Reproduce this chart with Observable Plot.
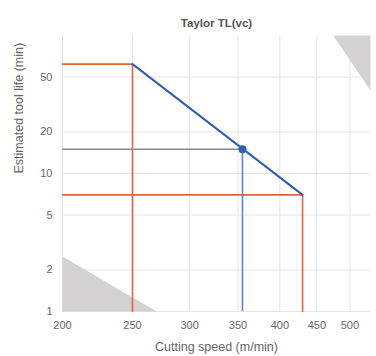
<!DOCTYPE html>
<html>
<head>
<meta charset="utf-8">
<script src="https://cdn.jsdelivr.net/npm/d3@7"></script>
<script src="https://cdn.jsdelivr.net/npm/@observablehq/plot@0.6"></script>
<style>
  html, body { margin: 0; padding: 0; background: #fff; }
  #chart svg { display: block; }
</style>
</head>
<body>
<div id="chart"></div>
<script>
// Data
const title = "Taylor TL(vc)";
const xLabel = "Cutting speed (m/min)";
const yLabel = "Estimated tool life (min)";
const xDomain = [200, 534];
const yDomain = [1, 100];
const xTicks = [200, 250, 300, 350, 400, 450, 500];
const yTicks = [1, 2, 5, 10, 20, 50];
// Taylor line end points (speed, life)
const limitSpeeds = [250, 430];
const limitLives = [62, 7];
// operating point
const opSpeed = [355];
const opLife = [15];
// shaded triangles
const triLow = {x: [200, 200, 270], y: [1, 2.5, 1]};
const triHigh = {x: [474, 534, 534], y: [100, 100, 40]};

const red = "#e8613f", blue = "#2e5fb4", grey = "#8a8a8a", shade = "#d3d1d1";

const taylor = limitSpeeds.map((s, i) => ({x: s, y: limitLives[i]}));
const redPaths = limitSpeeds.flatMap((s, i) => [
  {k: i, x: xDomain[0], y: limitLives[i]},
  {k: i, x: s, y: limitLives[i]},
  {k: i, x: s, y: yDomain[0]}
]);
const op = opSpeed.map((s, i) => ({x: s, y: opLife[i]}));
const tri = (t, k) => t.x.map((x, i) => ({k, x, y: t.y[i]}));
const tris = [...tri(triLow, "a"), ...tri(triHigh, "b")];
const fmt = d => String(d);

const chart = Plot.plot({
  width: 376,
  height: 356,
  marginTop: 35,
  marginBottom: 45,
  marginLeft: 62,
  marginRight: 6,
  style: {fontFamily: "'Liberation Sans', Arial, sans-serif", fontSize: "11px", color: "#666", background: "#fff"},
  x: {type: "log", domain: xDomain, label: null},
  y: {type: "log", domain: yDomain, label: null},
  marks: [
    Plot.gridX({ticks: xTicks, stroke: "#e4e4e4", strokeOpacity: 1}),
    Plot.gridY({ticks: yTicks, stroke: "#e4e4e4", strokeOpacity: 1}),
    Plot.line(tris, {x: "x", y: "y", z: "k", fill: shade, stroke: "none", curve: "linear-closed"}),
    Plot.axisX({ticks: xTicks, tickSize: 0, tickPadding: 10, tickFormat: fmt, fill: "#666", fontSize: 11, label: null}),
    Plot.axisY({ticks: yTicks, tickSize: 0, tickPadding: 10, tickFormat: fmt, fill: "#666", fontSize: 11, label: null}),
    Plot.line(redPaths, {x: "x", y: "y", z: "k", stroke: red, strokeWidth: 1.6}),
    Plot.ruleY(op, {x1: xDomain[0], x2: "x", y: "y", stroke: grey, strokeWidth: 1.6}),
    Plot.ruleX(op, {x: "x", y1: yDomain[0], y2: "y", stroke: "#5b86d4", strokeWidth: 1.6}),
    Plot.line(taylor, {x: "x", y: "y", stroke: blue, strokeWidth: 2}),
    Plot.dot(op, {x: "x", y: "y", r: 4, fill: blue, stroke: "none"}),
    Plot.text([title], {frameAnchor: "top", dy: -17, fontWeight: "bold", fontSize: 11.5, fill: "#555"}),
    Plot.text([xLabel], {frameAnchor: "bottom", dy: 39, fontSize: 12.5, fill: "#666"}),
    Plot.text([yLabel], {frameAnchor: "left", dx: -44, rotate: -90, fontSize: 12.5, fill: "#666"})
  ]
});
document.getElementById("chart").appendChild(chart);
</script>
</body>
</html>
